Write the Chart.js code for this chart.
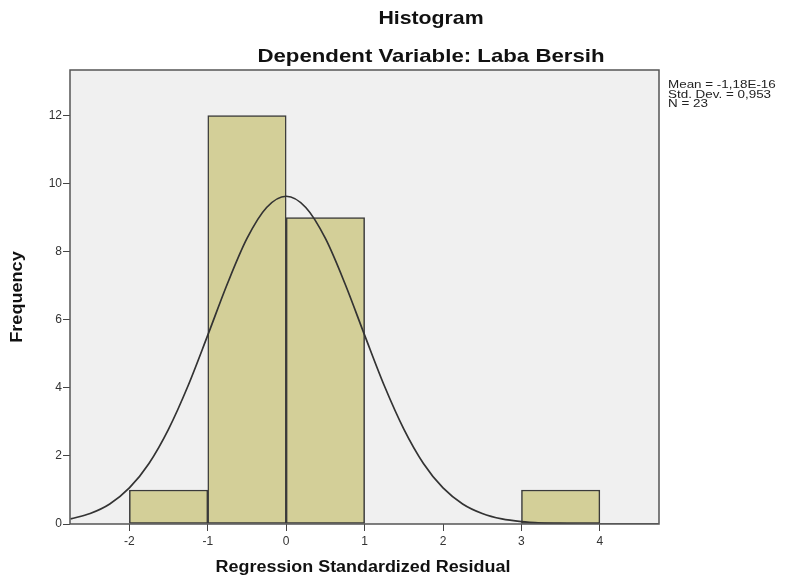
<!DOCTYPE html>
<html>
<head>
<meta charset="utf-8">
<script src="https://cdn.jsdelivr.net/npm/chart.js@4.4.1/dist/chart.umd.min.js"></script>
<style>
html,body{margin:0;padding:0;background:#fff;}
#wrap{width:791px;height:579px;}
</style>
</head>
<body>
<div id="wrap"><canvas id="c" width="791" height="579"></canvas></div>
<script>
// Histogram bins (centers) and counts
const binCenters = [-1.5, -0.5, 0.5, 1.5, 2.5, 3.5];
const frequencies = [1, 12, 9, 0, 0, 1];
// Normal curve
const curveX = [-2.75,-2.5,-2.25,-2,-1.75,-1.5,-1.25,-1,-0.75,-0.5,-0.25,0,0.25,0.5,0.75,1,1.25,1.5,1.75,2,2.25,2.5,2.75,3,3.25,3.5,3.75,4,4.25,4.5,4.75];
const curveY = [0.15,0.31,0.59,1.06,1.78,2.79,4.07,5.55,7.06,8.39,9.30,9.63,9.30,8.39,7.06,5.55,4.07,2.79,1.78,1.06,0.59,0.31,0.15,0.07,0.03,0.01,0,0,0,0,0];
const xTicks = [-2, -1, 0, 1, 2, 3, 4];
const yTicks = [0, 2, 4, 6, 8, 10, 12];
const titleText = 'Histogram';
const subtitleText = 'Dependent Variable: Laba Bersih';
const xTitle = 'Regression Standardized Residual';
const yTitle = 'Frequency';
const statsLines = ['Mean = -1,18E-16', 'Std. Dev. = 0,953', 'N = 23'];

const FONT = '"Liberation Sans", Arial, sans-serif';

const barData = binCenters.map((x, i) => ({x: x, y: frequencies[i] === 0 ? null : frequencies[i]}));
const lineData = curveX.map((x, i) => ({x: x, y: curveY[i]}));

function stretchedText(ctx, text, x, y, sx, align) {
  ctx.save();
  ctx.translate(x, y);
  ctx.scale(sx, 1);
  ctx.textAlign = align;
  ctx.fillText(text, 0, 0);
  ctx.restore();
}

const framePlugin = {
  id: 'frame',
  beforeDatasetsDraw(chart) {
    const {ctx, chartArea: a} = chart;
    ctx.save();
    ctx.fillStyle = '#f0f0f0';
    ctx.fillRect(a.left, a.top, a.right - a.left, a.bottom - a.top);
    ctx.restore();
  },
  afterDatasetsDraw(chart) {
    const {ctx, chartArea: a} = chart;
    ctx.save();
    ctx.strokeStyle = '#555';
    ctx.lineWidth = 1.5;
    ctx.strokeRect(a.left, a.top, a.right - a.left, a.bottom - a.top);
    ctx.restore();
  },
  afterDraw(chart) {
    const {ctx} = chart;
    ctx.save();
    ctx.fillStyle = '#111';
    ctx.textBaseline = 'middle';
    ctx.font = 'bold 19px ' + FONT;
    stretchedText(ctx, titleText, 431, 19, 1.12, 'center');
    stretchedText(ctx, subtitleText, 431, 57, 1.17, 'center');
    ctx.font = 'bold 16px ' + FONT;
    stretchedText(ctx, xTitle, 363, 568, 1.12, 'center');
    ctx.save();
    ctx.translate(18, 297);
    ctx.rotate(-Math.PI / 2);
    ctx.font = 'bold 16px ' + FONT;
    stretchedText(ctx, yTitle, 0, 0, 1.13, 'center');
    ctx.restore();
    ctx.font = '11px ' + FONT;
    ctx.fillStyle = '#222';
    statsLines.forEach((s, i) => stretchedText(ctx, s, 668, 85 + i * 9.5, 1.22, 'left'));
    ctx.restore();
  }
};

new Chart(document.getElementById('c'), {
  type: 'bar',
  data: {
    datasets: [
      {
        type: 'line',
        data: lineData,
        borderColor: '#333',
        borderWidth: 1.7,
        pointRadius: 0,
        cubicInterpolationMode: 'monotone',
        fill: false,
        order: 0
      },
      {
        type: 'bar',
        data: barData,
        backgroundColor: '#d3cf98',
        borderColor: '#3a3a3a',
        borderWidth: 1.5,
        borderSkipped: false,
        barPercentage: 1,
        categoryPercentage: 1,
        order: 1
      }
    ]
  },
  options: {
    responsive: false,
    devicePixelRatio: 1,
    animation: false,
    layout: {padding: {top: 70, right: 132, bottom: 0, left: 0}},
    plugins: {legend: {display: false}, tooltip: {enabled: false}, title: {display: false}},
    scales: {
      x: {
        type: 'linear',
        min: -2.757,
        max: 4.754,
        offset: false,
        afterFit(s) { s.height = 55; },
        afterBuildTicks(s) { s.ticks = xTicks.map(v => ({value: v})); },
        ticks: {font: {family: FONT, size: 12}, color: '#333', padding: 3},
        grid: {offset: false, drawOnChartArea: false, drawTicks: true, tickLength: 7, color: '#444'},
        border: {display: false}
      },
      y: {
        type: 'linear',
        min: 0,
        max: 13.34,
        afterFit(s) { s.width = 70; },
        afterBuildTicks(s) { s.ticks = yTicks.map(v => ({value: v})); },
        ticks: {font: {family: FONT, size: 12}, color: '#333', padding: 1},
        grid: {offset: false, drawOnChartArea: false, drawTicks: true, tickLength: 7, color: '#444'},
        border: {display: false}
      }
    }
  },
  plugins: [framePlugin]
});
</script>
</body>
</html>
